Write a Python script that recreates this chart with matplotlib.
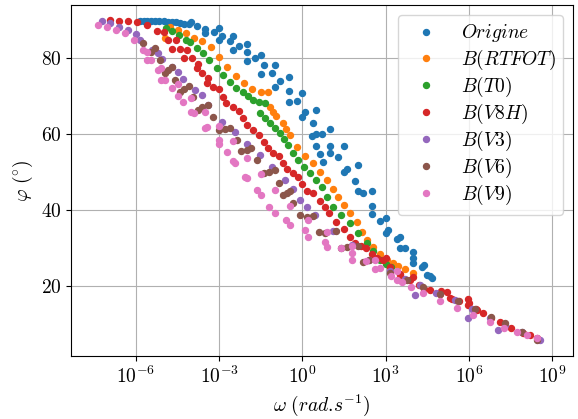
import numpy as np
import matplotlib
matplotlib.use("Agg")
import matplotlib.pyplot as plt
from matplotlib.ticker import FixedLocator, NullLocator

plt.rcParams.update({
    "font.family": "serif",
    "font.serif": ["cmr10", "DejaVu Serif"],
    "mathtext.fontset": "cm",
    "axes.formatter.use_mathtext": True,
    "axes.unicode_minus": False,
})

# ---------------------------------------------------------------------------
# Data: log10(omega) and phase angle (degrees).
# The thick bands are given as a centre row followed by their upper and
# lower edges, as seen on the picture.
# ---------------------------------------------------------------------------
origine_logw = [-5.85, -5.7, -5.6, -5.45, -5.3, -5.15, -5.0, -4.85, -4.7, -4.55,
                -4.4, -4.25, -4.1, -3.8, -3.5, -3.2, -2.9, -2.6, -2.3, -2.0,
                -1.7, -1.4, -1.1, -0.8, -0.5, -0.2, 0.1, 0.4, 0.7, 1.0, 1.3,
                1.6, 1.9, 2.2, 2.5, 2.8, 3.1, 3.4, 3.7, 4.0, 4.3, 4.6, 4.67,
                0.35, 0.5, 0.62, 0.74,
                # upper edge
                -4.0, -3.0, -2.5, -2.0, -1.5, -1.0, -0.5, 0.0, 0.5, 1.0, 1.5,
                2.0, 2.5, 3.0, 3.5, 4.0, 4.4,
                # lower edge
                -3.5, -3.0, -2.5, -2.0, -1.5, -1.0, -0.5, 0.0, 0.5, 1.0, 1.5,
                2.0, 2.5, 3.0, 3.5, 4.0, 4.5]
origine_phi = [89.9, 89.9, 89.9, 89.9, 89.9, 89.8, 89.8, 89.7, 89.6, 89.5,
               89.4, 89.2, 89.0, 88.5, 87.8, 87.0, 86.0, 84.7, 83.3, 81.7,
               80.0, 78.2, 76.2, 74.0, 71.5, 68.8, 66.0, 63.0, 60.0, 57.0, 54.0,
               51.0, 47.8, 44.5, 41.0, 37.3, 34.8, 32.4, 30.0, 27.5, 25.1, 22.7, 22.1,
               59.5, 57.0, 54.8, 52.7,
               89.6, 88.0, 86.0, 83.8, 81.0, 78.4, 75.0, 71.0, 66.5, 61.5, 57.0,
               52.0, 45.0, 38.0, 33.0, 29.0, 25.5,
               86.8, 84.8, 82.3, 79.3, 76.0, 72.5, 68.5, 64.5, 60.0, 55.0, 50.0,
               45.0, 39.0, 34.0, 30.0, 26.0, 23.0]

rtfot_logw = [-4.77, -4.5, -4.2, -3.9, -3.6, -3.3, -3.0, -2.7, -2.4, -2.1,
              -1.8, -1.5, -1.24, -1.17, -0.95, -0.7, -0.45, -0.2, 0.1, 0.38,
              0.65, 0.88, 1.1, 1.28, 1.5, 1.71, 1.95, 2.15, 2.32, 2.55, 2.8,
              3.05, 3.25, 3.44, 3.7, 4.0, -4.95, -1.05, -0.6]
rtfot_phi = [88.3, 87.6, 86.6, 85.4, 84.6, 83.0, 80.5, 77.8, 75.4, 73.5,
             71.9, 71.3, 71.1, 67.2, 64.8, 63.0, 59.8, 56.7, 54.4, 52.4,
             50.0, 48.0, 45.5, 43.5, 41.5, 39.3, 36.8, 34.2, 32.2, 30.4, 28.6,
             26.9, 26.0, 25.4, 24.4, 23.5, 85.4, 66.0, 61.5]

t0_logw = [-4.92, -4.7, -4.45, -4.2, -4.05, -3.8, -3.59, -3.35, -3.08, -2.85,
           -2.61, -2.38, -2.14, -1.95, -1.78, -1.55, -1.35, -1.53, -1.35, -1.17,
           -1.0, -0.81, -0.65, -0.52, -0.35, -0.16, 0.05, 0.27, 0.5, 0.7,
           0.9, 1.1, 1.4, 1.71, 2.0, 2.32, 2.55, 2.79, 3.0, 3.2]
t0_phi = [88.0, 87.3, 86.2, 85.0, 84.3, 82.8, 81.4, 79.6, 77.5, 75.6,
          73.8, 72.3, 71.1, 70.0, 69.0, 68.5, 68.2, 65.6, 64.3, 63.0,
          61.6, 60.3, 58.8, 57.2, 55.2, 53.2, 51.5, 49.8, 48.0, 46.1,
          43.5, 40.9, 38.8, 36.6, 34.0, 31.4, 29.3, 26.9, 25.8, 25.0]

v8h_logw = [-6.94, -6.6, -6.3, -5.96, -5.6, -5.25, -4.85, -4.4, -3.98, -3.6,
            -3.23, -2.85, -2.5, -2.15, -1.78, -1.4, -1.06, -0.7,
            -0.34, 0.0, 0.38, 0.8, 1.2, 1.71, 2.1, 2.5, 2.9, 3.15, 3.5, 3.87,
            4.2, 4.59, 4.95, 5.32, 5.65, 5.96, 6.25, 6.5, 6.8, 7.12, 7.5,
            7.95, 8.2, 8.45, 5.2, 5.95,
            # upper edge
            -5.0, -4.55, -4.15, -3.75, -3.4, -3.0, -2.3, -1.55, -0.85, -0.15,
            0.65, 1.5, 2.3, 3.0, 4.0, 5.0, 6.0,
            # lower edge
            -4.7, -4.25, -3.8, -3.45, -2.75, -2.0, -1.25, -0.55, 0.15, 0.95,
            1.9, 2.7, 3.5, 4.4, 5.4, 6.3]
v8h_phi = [90.1, 90.0, 89.9, 89.6, 88.9, 87.3, 84.8, 82.5, 80.0, 76.3,
           72.5, 69.8, 67.2, 64.2, 61.1, 58.0, 55.1, 52.5,
           49.8, 47.0, 44.5, 40.8, 37.0, 32.9, 30.5, 28.6, 26.9, 25.0, 23.3, 21.7,
           20.3, 19.0, 18.0, 17.0, 16.0, 15.1, 14.0, 12.9, 11.7, 10.5, 9.1,
           7.6, 7.0, 6.3, 18.5, 16.5,
           87.0, 84.8, 82.3, 78.5, 74.8, 72.0, 66.2, 59.8, 54.4, 48.8,
           42.5, 35.0, 30.0, 27.3, 22.3, 18.6, 15.6,
           82.5, 80.2, 77.5, 73.5, 68.3, 62.5, 56.4, 50.8, 45.2, 39.2,
           31.5, 27.5, 23.0, 19.3, 16.6, 13.6]

v3_logw = [-7.23, -6.95, -6.6, -6.29, -5.85, -5.42, -5.05, -4.70, -4.3, -3.87,
           -3.41, -2.9, -2.43, -2.0, -1.53, -1.1, -0.63, -0.35, -0.1, 0.15,
           0.45, 1.1, 1.78, 2.4, 3.15, 3.7, 4.23, 4.8, 5.5, 6.1, 6.76, 7.3,
           7.9, 8.56, 4.05, 5.96, 7.05, -6.0, -5.2, -4.5, -3.6]
v3_phi = [89.8, 89.3, 88.4, 87.5, 85.0, 82.2, 79.8, 77.7, 74.5, 71.7,
          67.7, 63.2, 60.6, 57.5, 54.5, 51.3, 48.0, 45.5, 42.7, 40.8,
          38.7, 34.5, 30.8, 27.0, 23.9, 22.0, 20.2, 18.3, 16.3, 14.0, 11.5, 9.8,
          7.9, 5.8, 17.7, 11.6, 8.5, 86.5, 81.5, 76.5, 70.3]

v6_logw = [-5.75, -5.45, -5.14, -4.85, -4.59, -4.25, -3.95, -3.6, -3.23, -2.8,
           -2.36, -2.0, -1.64, -1.2, -0.85, -0.55, -0.35, 0.15, 0.8, 1.6,
           2.4, 3.15, 3.77, 4.35, 4.95, 5.6, 6.22, 6.8, 7.3, 7.9, 8.45,
           # upper edge
           -5.3, -4.7, -4.1, -3.4, -2.6, -1.85, -1.0, -0.45, 0.4, 1.2, 2.0,
           # lower edge
           -4.95, -4.4, -3.75, -3.0, -2.2, -1.4, -0.7, -0.1, 0.6, 1.4, 2.2]
v6_phi = [84.1, 81.8, 79.6, 76.9, 74.3, 72.0, 69.8, 67.2, 64.6, 61.5,
          58.5, 55.8, 53.2, 50.0, 47.2, 44.5, 41.9, 38.2, 34.0, 30.3,
          26.8, 23.4, 21.5, 19.8, 18.0, 16.0, 14.0, 12.0, 10.3, 8.0, 5.9,
          82.7, 77.8, 72.7, 67.8, 61.8, 56.5, 50.5, 45.0, 38.5, 34.5, 30.5,
          76.3, 71.3, 66.5, 61.1, 55.6, 49.8, 44.0, 38.8, 34.3, 30.0, 26.3]

v9_logw = [-7.37, -7.05, -6.70, -6.40, -6.05, -5.75, -5.45, -5.2, -4.95, -4.7,
           -4.3, -3.9, -3.45, -3.02, -2.7, -2.44, -2.05, -1.62, -1.2, -0.6,
           0.1, 0.8, 1.4, 1.78, 2.3, 2.8, 3.2, 3.6, 3.9, 4.34, 4.95, 5.57,
           6.15, 6.76, 7.25, 7.73, 8.1, 8.45,
           # upper edge
           -5.6, -5.1, -4.5, -4.0, -3.5, -3.0, -2.5, -2.0, -1.5, -1.0, -0.45,
           0.2, 0.9, 1.8, 2.6, 3.4,
           # lower edge
           -5.6, -5.1, -4.5, -4.0, -3.5, -3.0, -2.5, -2.0, -1.5, -1.0, -0.45,
           0.2, 0.9, 1.8, 2.6, 3.4]
v9_phi = [88.8, 88.2, 87.5, 86.7, 84.8, 82.2, 79.6, 76.9, 74.3, 72.1,
          68.6, 65.6, 62.0, 58.5, 55.4, 52.4, 48.8, 45.3, 40.8, 37.4,
          34.8, 31.6, 30.0, 28.7, 26.5, 24.8, 22.8, 21.0, 19.8, 18.2, 16.2, 14.2,
          12.3, 10.5, 9.1, 7.9, 7.0, 6.3,
          81.8, 77.5, 73.3, 69.7, 66.0, 62.2, 58.2, 53.8, 49.5, 45.3, 41.0,
          37.4, 34.4, 30.6, 27.0, 23.9,
          79.6, 74.4, 70.0, 66.0, 61.8, 57.4, 53.0, 48.6, 44.0, 39.4, 36.0,
          33.0, 30.4, 27.0, 24.6, 21.6]

series = [
    (r"$Origine$", origine_logw, origine_phi),
    (r"$B(RTFOT)$", rtfot_logw, rtfot_phi),
    (r"$B(T0)$", t0_logw, t0_phi),
    (r"$B(V8H)$", v8h_logw, v8h_phi),
    (r"$B(V3)$", v3_logw, v3_phi),
    (r"$B(V6)$", v6_logw, v6_phi),
    (r"$B(V9)$", v9_logw, v9_phi),
]

fig = plt.figure(figsize=(5.78, 4.19), dpi=100)
ax = fig.add_axes([0.1232, 0.1504, 0.8681, 0.8377])

for label, logw, phi in series:
    ax.plot(10.0 ** np.asarray(logw), phi, "o", ms=4.3, label=label)

ax.set_xscale("log")
ax.set_xlim(10 ** -8.33, 10 ** 9.75)
ax.set_ylim(1.6, 94.1)
ax.xaxis.set_major_locator(FixedLocator([1e-6, 1e-3, 1e0, 1e3, 1e6, 1e9]))
ax.xaxis.set_minor_locator(NullLocator())
ax.set_yticks([20, 40, 60, 80])
ax.tick_params(labelsize=14)
ax.grid(True)
ax.set_axisbelow(True)

ax.set_xlabel(r"$\omega\ (rad.\!s^{-1})$", fontsize=14)
ax.set_ylabel(r"$\varphi\ (^{\circ})$", fontsize=14)
ax.legend(loc="upper right", fontsize=14, labelspacing=0.15)

fig.savefig("out.png", dpi=100)
